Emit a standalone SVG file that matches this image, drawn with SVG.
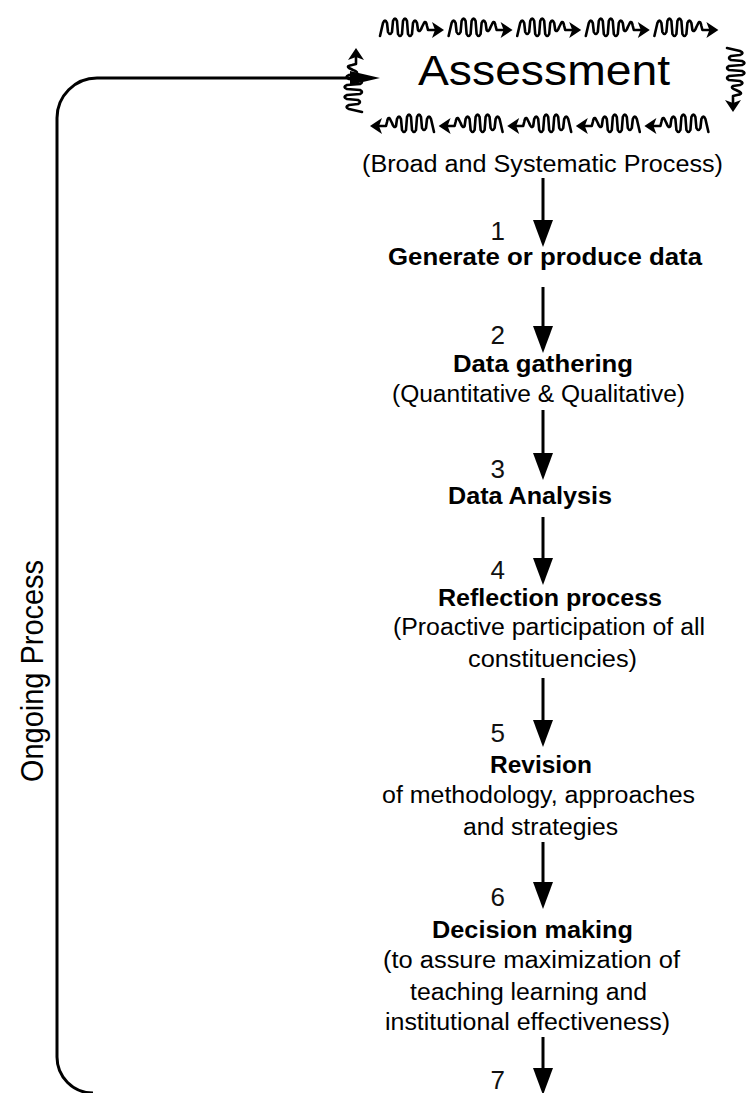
<svg xmlns="http://www.w3.org/2000/svg" xmlns:xlink="http://www.w3.org/1999/xlink" width="747" height="1093" viewBox="0 0 747 1093">
<style>
.reg{font-family:"Liberation Sans",Arial,sans-serif;font-size:23px;fill:#000}
.bold{font-family:"Liberation Sans",Arial,sans-serif;font-size:23px;font-weight:bold;fill:#000}
.num{font-family:"Liberation Sans",Arial,sans-serif;font-size:26px;fill:#111}
.wave{fill:none;stroke:#000;stroke-width:2.6;stroke-linejoin:round;stroke-linecap:round}
.shaft{stroke:#000;stroke-width:3;fill:none}
.loop{stroke:#000;stroke-width:3;fill:none}
</style>
<defs>
<g id="wr">
<path class="wave" d="M0,19 L3,6 Q5,1 7,6 L8,15 Q10,19 12,15 L13,4 Q15,-1 17,4 L18,17 Q20,21 22,17 L23,4 Q25,-1 27,4 L28,17 Q30,21 32,17 L33,6 Q35,1 37,6 L38,13 Q40,16 42,10 L44,6 Q46,3 47,9 L48,13 L56,13"/>
<polygon points="52,5 64,13 52,21 55,13" fill="#000"/>
</g>
<polygon id="ah" points="-10,0 10,0 0,27" fill="#000"/>
</defs>

<g id="assessment">
<use xlink:href="#wr" transform="translate(380,17)"/>
<use xlink:href="#wr" transform="translate(448.6,17)"/>
<use xlink:href="#wr" transform="translate(517.2,17)"/>
<use xlink:href="#wr" transform="translate(585.8,17)"/>
<use xlink:href="#wr" transform="translate(654.4,17)"/>
<use xlink:href="#wr" transform="translate(434,113) scale(-1,1)"/>
<use xlink:href="#wr" transform="translate(502.6,113) scale(-1,1)"/>
<use xlink:href="#wr" transform="translate(571.2,113) scale(-1,1)"/>
<use xlink:href="#wr" transform="translate(639.8,113) scale(-1,1)"/>
<use xlink:href="#wr" transform="translate(708.4,113) scale(-1,1)"/>
<use xlink:href="#wr" transform="translate(343,112) rotate(-90)"/>
<use xlink:href="#wr" transform="translate(746,48) rotate(90)"/>
<text x="418" y="85" font-family="Liberation Sans, Arial, sans-serif" font-size="42" textLength="252" lengthAdjust="spacingAndGlyphs">Assessment</text>
<text class="reg" x="362" y="172" textLength="361" lengthAdjust="spacingAndGlyphs">(Broad and Systematic Process)</text>
</g>

<g id="step1">
<text class="num" x="505" y="240" text-anchor="end">1</text>
<text class="bold" x="388" y="265" textLength="314" lengthAdjust="spacingAndGlyphs">Generate or produce data</text>
</g>
<g id="step2">
<text class="num" x="505" y="344" text-anchor="end">2</text>
<text class="bold" x="453" y="372" textLength="180" lengthAdjust="spacingAndGlyphs">Data gathering</text>
<text class="reg" x="392" y="402" textLength="293" lengthAdjust="spacingAndGlyphs">(Quantitative &amp; Qualitative)</text>
</g>
<g id="step3">
<text class="num" x="505" y="478" text-anchor="end">3</text>
<text class="bold" x="448" y="504" textLength="164" lengthAdjust="spacingAndGlyphs">Data Analysis</text>
</g>
<g id="step4">
<text class="num" x="505" y="579" text-anchor="end">4</text>
<text class="bold" x="438" y="606" textLength="224" lengthAdjust="spacingAndGlyphs">Reflection process</text>
<text class="reg" x="393" y="635" textLength="312" lengthAdjust="spacingAndGlyphs">(Proactive participation of all</text>
<text class="reg" x="468" y="667" textLength="169" lengthAdjust="spacingAndGlyphs">constituencies)</text>
</g>
<g id="step5">
<text class="num" x="505" y="742" text-anchor="end">5</text>
<text class="bold" x="490" y="773" textLength="102" lengthAdjust="spacingAndGlyphs">Revision</text>
<text class="reg" x="382" y="803" textLength="313" lengthAdjust="spacingAndGlyphs">of methodology, approaches</text>
<text class="reg" x="463" y="835" textLength="155" lengthAdjust="spacingAndGlyphs">and strategies</text>
</g>
<g id="step6">
<text class="num" x="505" y="906" text-anchor="end">6</text>
<text class="bold" x="432" y="938" textLength="201" lengthAdjust="spacingAndGlyphs">Decision making</text>
<text class="reg" x="383" y="968" textLength="297" lengthAdjust="spacingAndGlyphs">(to assure maximization of</text>
<text class="reg" x="410" y="1000" textLength="237" lengthAdjust="spacingAndGlyphs">teaching learning and</text>
<text class="reg" x="385" y="1030" textLength="285" lengthAdjust="spacingAndGlyphs">institutional effectiveness)</text>
</g>
<g id="step7">
<text class="num" x="505" y="1089" text-anchor="end">7</text>
</g>
<g id="ongoing">
<text x="43" y="671" font-family="Liberation Sans, Arial, sans-serif" font-size="31" text-anchor="middle" textLength="222" lengthAdjust="spacingAndGlyphs" transform="rotate(-90 43 671)">Ongoing Process</text>
</g>

<g id="connectors">
<line class="shaft" x1="543" y1="178" x2="543" y2="222"/>
<use xlink:href="#ah" transform="translate(543,220)"/>
<line class="shaft" x1="543" y1="287" x2="543" y2="328"/>
<use xlink:href="#ah" transform="translate(543,326)"/>
<line class="shaft" x1="543" y1="410" x2="543" y2="455"/>
<use xlink:href="#ah" transform="translate(543,453)"/>
<line class="shaft" x1="543" y1="517" x2="543" y2="560"/>
<use xlink:href="#ah" transform="translate(543,558)"/>
<line class="shaft" x1="543" y1="678" x2="543" y2="722"/>
<use xlink:href="#ah" transform="translate(543,720)"/>
<line class="shaft" x1="543" y1="842" x2="543" y2="884"/>
<use xlink:href="#ah" transform="translate(543,882)"/>
<line class="shaft" x1="543" y1="1037" x2="543" y2="1070"/>
<use xlink:href="#ah" transform="translate(543,1068)"/>
<path class="loop" d="M93,1093 A36,36 0 0 1 57,1057 L57,118 A40,40 0 0 1 97,78 L352,78"/>
<polygon points="350,71 380,78 350,85" fill="#000"/>
</g>
</svg>
